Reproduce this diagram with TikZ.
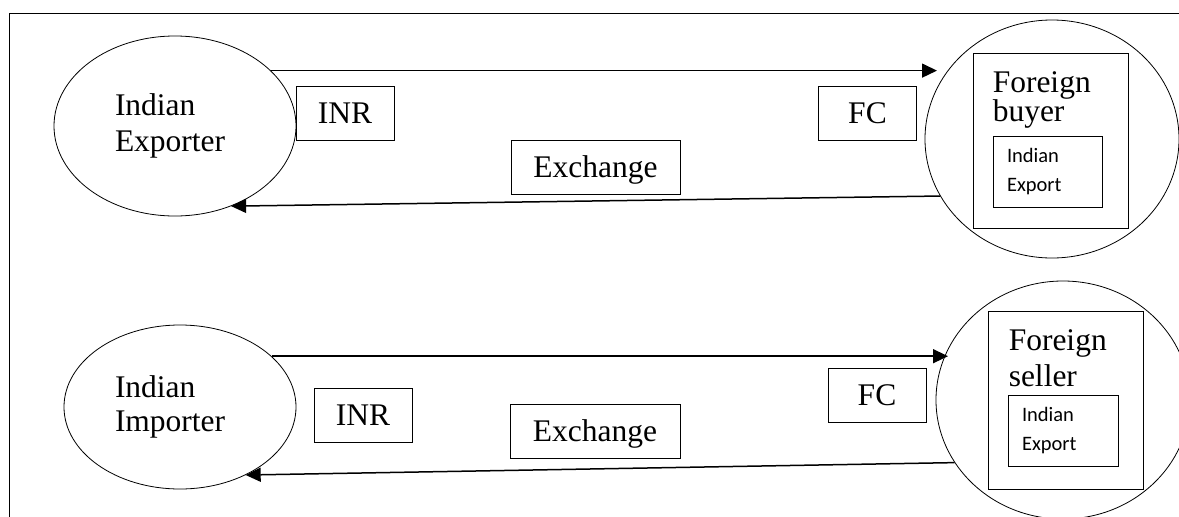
\documentclass[tikz,border=0pt]{standalone}
\usepackage{fontspec}
\setmainfont{Liberation Serif}
\newfontfamily\calibrifont{Carlito}
\usetikzlibrary{shapes.geometric,arrows.meta}
\newcommand{\bigtext}{\fontsize{31.5}{36}\selectfont}

\begin{document}
\begin{tikzpicture}[x=1pt,y=-1pt,
  party/.style={draw, ellipse, line width=0.8pt, inner sep=3pt, font=\bigtext, align=left},
  money/.style={draw, line width=0.8pt, minimum width=98pt, minimum height=54pt,
    font=\bigtext, text depth=0pt},
  holder/.style={draw, line width=0.9pt, minimum width=155pt},
  goods/.style={draw, line width=0.8pt, font=\calibrifont\fontsize{20.5}{29.5}\selectfont,
    align=left, text width=81pt, inner xsep=14pt, minimum height=71pt},
  flow/.style={line width=1.5pt, -{Triangle[length=15pt,width=14pt]}}]
\useasboundingbox (0,0) rectangle (1179,517);
\draw[line width=0.8pt] (9,517) -- (9,13) -- (1179,13);

% export side
\node[party, minimum width=242pt, minimum height=180pt, text width=120pt] (IE) at (175,126) {Indian\\Exporter};
\node[party, minimum width=254pt, minimum height=238pt] (FB) at (1052,139) {};
\node[holder, minimum height=175pt] (FBbox) at (1050.5,140.5) {};
\node[font=\fontsize{31.5}{29}\selectfont, align=left, inner sep=0pt, anchor=north west]
  (FBname) at ([xshift=20pt,yshift=-18.5pt]FBbox.north west) {Foreign\\buyer};
\node[goods] (FBgoods) at (1047.5,171.5) {Indian\\Export};

\node[money] (INR1) at (345,113) {INR};
\node[money] (FC1) at (867.5,113.5) {FC};
\node[money, minimum width=169pt] (EX1) at (595.5,167) {Exchange};

\coordinate (FBtip) at (937,71);
\draw[flow] (IE.30) -- (IE.30 -| FBtip);
\draw[flow] (FB.207) -- (IE.-55);

% import side
\node[party, minimum width=232pt, minimum height=164pt, text width=130pt,
  font=\fontsize{31.5}{34}\selectfont] (II) at (180,407) {Indian\\Importer};
\node[party, minimum width=254pt, minimum height=238pt] (FS) at (1063,400) {};
\node[holder, minimum height=178pt] (FSbox) at (1065.5,400) {};
\node[font=\fontsize{31.5}{36}\selectfont, align=left, inner sep=0pt, anchor=north west]
  (FSname) at ([xshift=21pt,yshift=-18.5pt]FSbox.north west) {Foreign\\seller};
\node[goods, text width=82pt] (FSgoods) at (1063,430.5) {Indian\\Export};

\node[money] (INR2) at (363,415) {INR};
\node[money] (FC2) at (877,395.5) {FC};
\node[money, minimum width=170pt] (EX2) at (595,431) {Exchange};

\coordinate (FStip) at (948,353);
\draw[flow] (II.29) -- (II.29 -| FStip);
\draw[flow] (FS.210) -- (II.-46);

\end{tikzpicture}
\end{document}
